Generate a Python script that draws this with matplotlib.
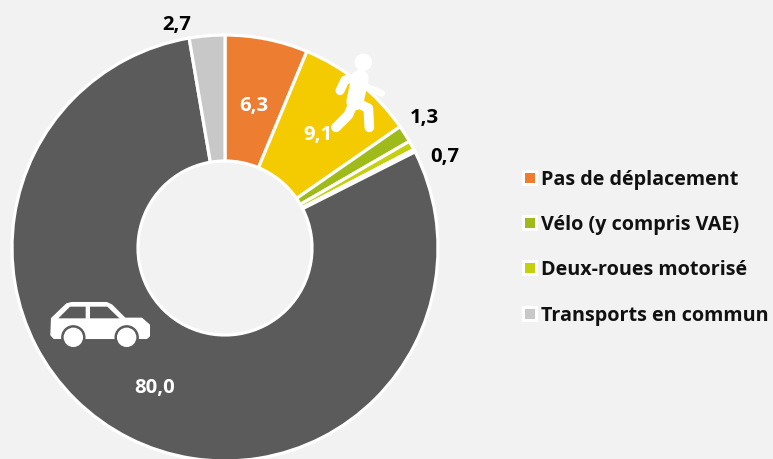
import matplotlib
matplotlib.use("Agg")
import matplotlib.pyplot as plt
from matplotlib.patches import Polygon, Circle, Rectangle

plt.rcParams['font.family'] = ['Open Sans', 'DejaVu Sans']

W = 773
H = 459
BG = "#F2F2F2"

#slices clockwise from the top
slices = ["Pas de déplacement", "Marche", "Vélo (y compris VAE)", "Deux-roues motorisé", "Autre", "Voiture", "Transports en commun"]
values = [6.3, 9.1, 1.3, 0.7, 0.2, 80.0, 2.7]
colors = ["#ED7D31", "#F4CB00", "#9EBB1A", "#C4D00E", "#A6A6A6", "#5B5B5B", "#C8C8C8"]

value_labels = ["6,3", "9,1", "1,3", "0,7", "80,0", "2,7"]
label_x = [254, 318, 424, 445, 155, 177]
label_y = [106, 135, 118, 157, 388, 25]
label_colors = ["white", "white", "black", "black", "white", "black"]

legend_names = ["Pas de déplacement", "Vélo (y compris VAE)", "Deux-roues motorisé", "Transports en commun"]
legend_y = [178, 223, 268, 314]


def py(y):
    return H - y


def zoom_pts(pts, ox, oy):
    return [(ox + x / 3, py(oy + y / 3)) for x, y in pts]


fig = plt.figure(figsize=(W / 100, H / 100), dpi=100, facecolor=BG)
ax = fig.add_axes([0, 0, 1, 1])

ax.pie(values, colors=colors, startangle=90, counterclock=False, center=(225, py(248)), radius=213,
       wedgeprops=dict(width=126, edgecolor="white", linewidth=2.3))
ax.set_xlim(0, W)
ax.set_ylim(0, H)
ax.set_aspect("equal")
ax.axis("off")

for txt, x, y, c in zip(value_labels, label_x, label_y, label_colors):
    ax.text(x, py(y), txt, color=c, fontsize=14.6, fontweight="bold", ha="center", va="center")

#legend
for name, y in zip(legend_names, legend_y):
    i = slices.index(name)
    ax.add_patch(Rectangle((522, py(y) - 8), 16, 16, facecolor="white", edgecolor="none"))
    ax.add_patch(Rectangle((525, py(y) - 5), 10, 10, facecolor=colors[i], edgecolor="none"))
    ax.text(541, py(y) - 2, name, color="#111111", fontsize=14.2, fontweight="bold", ha="left", va="center")

#pedestrian icon
ped = [
    ([(240, 145), (225, 215)], 12.5),
    ([(240, 140), (195, 150), (180, 182)], 6.5),
    ([(255, 170), (305, 190)], 5),
    ([(220, 220), (205, 255), (168, 292)], 7),
    ([(225, 215), (265, 235), (268, 292)], 7),
]
for pts, lw in ped:
    p = zoom_pts(pts, 280, 30)
    ax.plot([a[0] for a in p], [a[1] for a in p], color="white", lw=lw,
            solid_capstyle="round", solid_joinstyle="round", zorder=5)
ax.add_patch(Circle(zoom_pts([(250, 97)], 280, 30)[0], 8, color="white", zorder=5))

#car icon
body = [(65, 115), (110, 72), (125, 68), (230, 68), (245, 75), (285, 115), (335, 115), (358, 135),
        (358, 168), (350, 175), (72, 175), (63, 165)]
ax.add_patch(Polygon(zoom_pts(body, 30, 280), closed=True, facecolor="white", edgecolor="white", lw=1, joinstyle="round", zorder=5))
for win in ([(85, 115), (120, 80), (167, 80), (167, 115)], [(180, 80), (232, 80), (268, 115), (180, 115)]):
    ax.add_patch(Polygon(zoom_pts(win, 30, 280), closed=True, facecolor="#5B5B5B", edgecolor="none", zorder=6))
for wx in (130, 290):
    c = zoom_pts([(wx, 172)], 30, 280)[0]
    ax.add_patch(Circle(c, 11.5, color="#5B5B5B", zorder=6))
    ax.add_patch(Circle(c, 9, color="white", zorder=7))

fig.savefig("out.png", dpi=100, facecolor=BG)
